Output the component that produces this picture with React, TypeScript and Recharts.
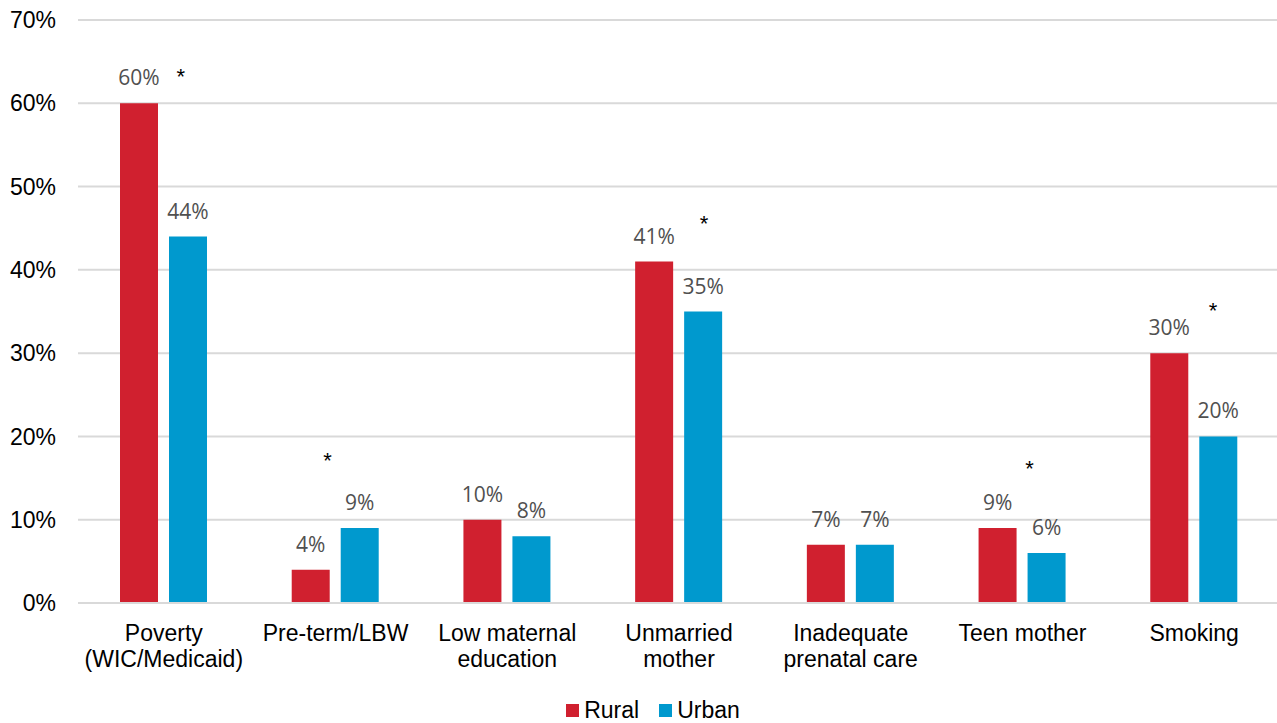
import { ComposedChart, Bar, Scatter, XAxis, YAxis, CartesianGrid, LabelList, Legend } from 'recharts';

const categories = [
  'Poverty\n(WIC/Medicaid)',
  'Pre-term/LBW',
  'Low maternal\neducation',
  'Unmarried\nmother',
  'Inadequate\nprenatal care',
  'Teen mother',
  'Smoking',
];
const rural = [60, 4, 10, 41, 7, 9, 30];
const urban = [44, 9, 8, 35, 7, 6, 20];
// significance markers (height in % on the y scale); null = not significant
const significance = [63.7, 17.6, null, 46.1, null, 16.7, 35.7];
const yTicks = [0, 10, 20, 30, 40, 50, 60, 70];

const RURAL_COLOR = '#D0202F';
const URBAN_COLOR = '#0099CE';
const AXIS_FONT = '"Liberation Sans", Arial, sans-serif';
const VALUE_FONT = '"Open Sans", sans-serif';

// horizontal nudge of each asterisk from the category center
const starShift = [17, -8, 0, 25, 0, 7, 19];

const chartData = categories.map((name, i) => ({
  name,
  rural: rural[i],
  urban: urban[i],
  star: significance[i],
}));

const CategoryTick = ({ x, y, payload }: any) => {
  const lines = String(payload.value).split('\n');
  return (
    <text x={x} y={y + 30} textAnchor="middle" fontFamily={AXIS_FONT} fontSize={23} fill="#000">
      {lines.map((line, i) => (
        <tspan key={i} x={x} dy={i === 0 ? 0 : 26}>
          {line}
        </tspan>
      ))}
    </text>
  );
};

const ValueLabel = ({ x, y, width, value }: any) => (
  <text
    x={x + width / 2}
    y={y - 18}
    textAnchor="middle"
    fontFamily={VALUE_FONT}
    fontSize={21}
    fill="#505050"
  >
    {`${value}%`}
  </text>
);

const Star = ({ cx, cy, payload, index }: any) => {
  if (payload == null || payload.star == null || !Number.isFinite(cy)) return <g />;
  const i = index ?? chartData.findIndex((d) => d.name === payload.name);
  return (
    <text x={cx + (starShift[i] || 0)} y={cy + 12} textAnchor="middle" fontFamily={AXIS_FONT} fontSize={22} fill="#000">
      *
    </text>
  );
};

const LegendContent = () => (
  <div
    style={{
      display: 'flex',
      justifyContent: 'center',
      alignItems: 'center',
      fontFamily: AXIS_FONT,
      fontSize: 23,
      color: '#000',
      height: 30,
      paddingTop: 4,
      paddingLeft: 46,
      boxSizing: 'border-box',
    }}
  >
    {[
      { label: 'Rural', color: RURAL_COLOR },
      { label: 'Urban', color: URBAN_COLOR },
    ].map((item) => (
      <span key={item.label} style={{ display: 'flex', alignItems: 'center', marginRight: 20 }}>
        <span style={{ width: 13, height: 13, background: item.color, marginRight: 5, display: 'inline-block' }} />
        {item.label}
      </span>
    ))}
  </div>
);

const App = () => {
  return (
    <div style={{ position: 'absolute', left: 0, top: 0, width: 1277, height: 723, overflow: 'hidden', background: '#fff' }}>
      <ComposedChart
        width={1280}
        height={723}
        data={chartData}
        margin={{ top: 20, right: 0, bottom: 0, left: 0 }}
        barSize={38}
        barGap={11}
      >
        <CartesianGrid vertical={false} stroke="#d9d9d9" strokeWidth={2} />
        <XAxis
          dataKey="name"
          height={90}
          interval={0}
          tickLine={false}
          axisLine={{ stroke: '#d9d9d9', strokeWidth: 2 }}
          tick={<CategoryTick />}
        />
        <YAxis
          width={78}
          domain={[0, 70]}
          ticks={yTicks}
          tickFormatter={(v) => `${v}%`}
          axisLine={false}
          tickLine={false}
          tickSize={0}
          tickMargin={22}
          tick={{ fontFamily: AXIS_FONT, fontSize: 23, fill: '#000' }}
        />
        <Legend verticalAlign="bottom" height={30} content={<LegendContent />} />
        <Bar dataKey="rural" name="Rural" fill={RURAL_COLOR} isAnimationActive={false}>
          <LabelList dataKey="rural" content={<ValueLabel />} />
        </Bar>
        <Bar dataKey="urban" name="Urban" fill={URBAN_COLOR} isAnimationActive={false}>
          <LabelList dataKey="urban" content={<ValueLabel />} />
        </Bar>
        <Scatter dataKey="star" legendType="none" isAnimationActive={false} shape={<Star />} />
      </ComposedChart>
    </div>
  );
};

export default App;
